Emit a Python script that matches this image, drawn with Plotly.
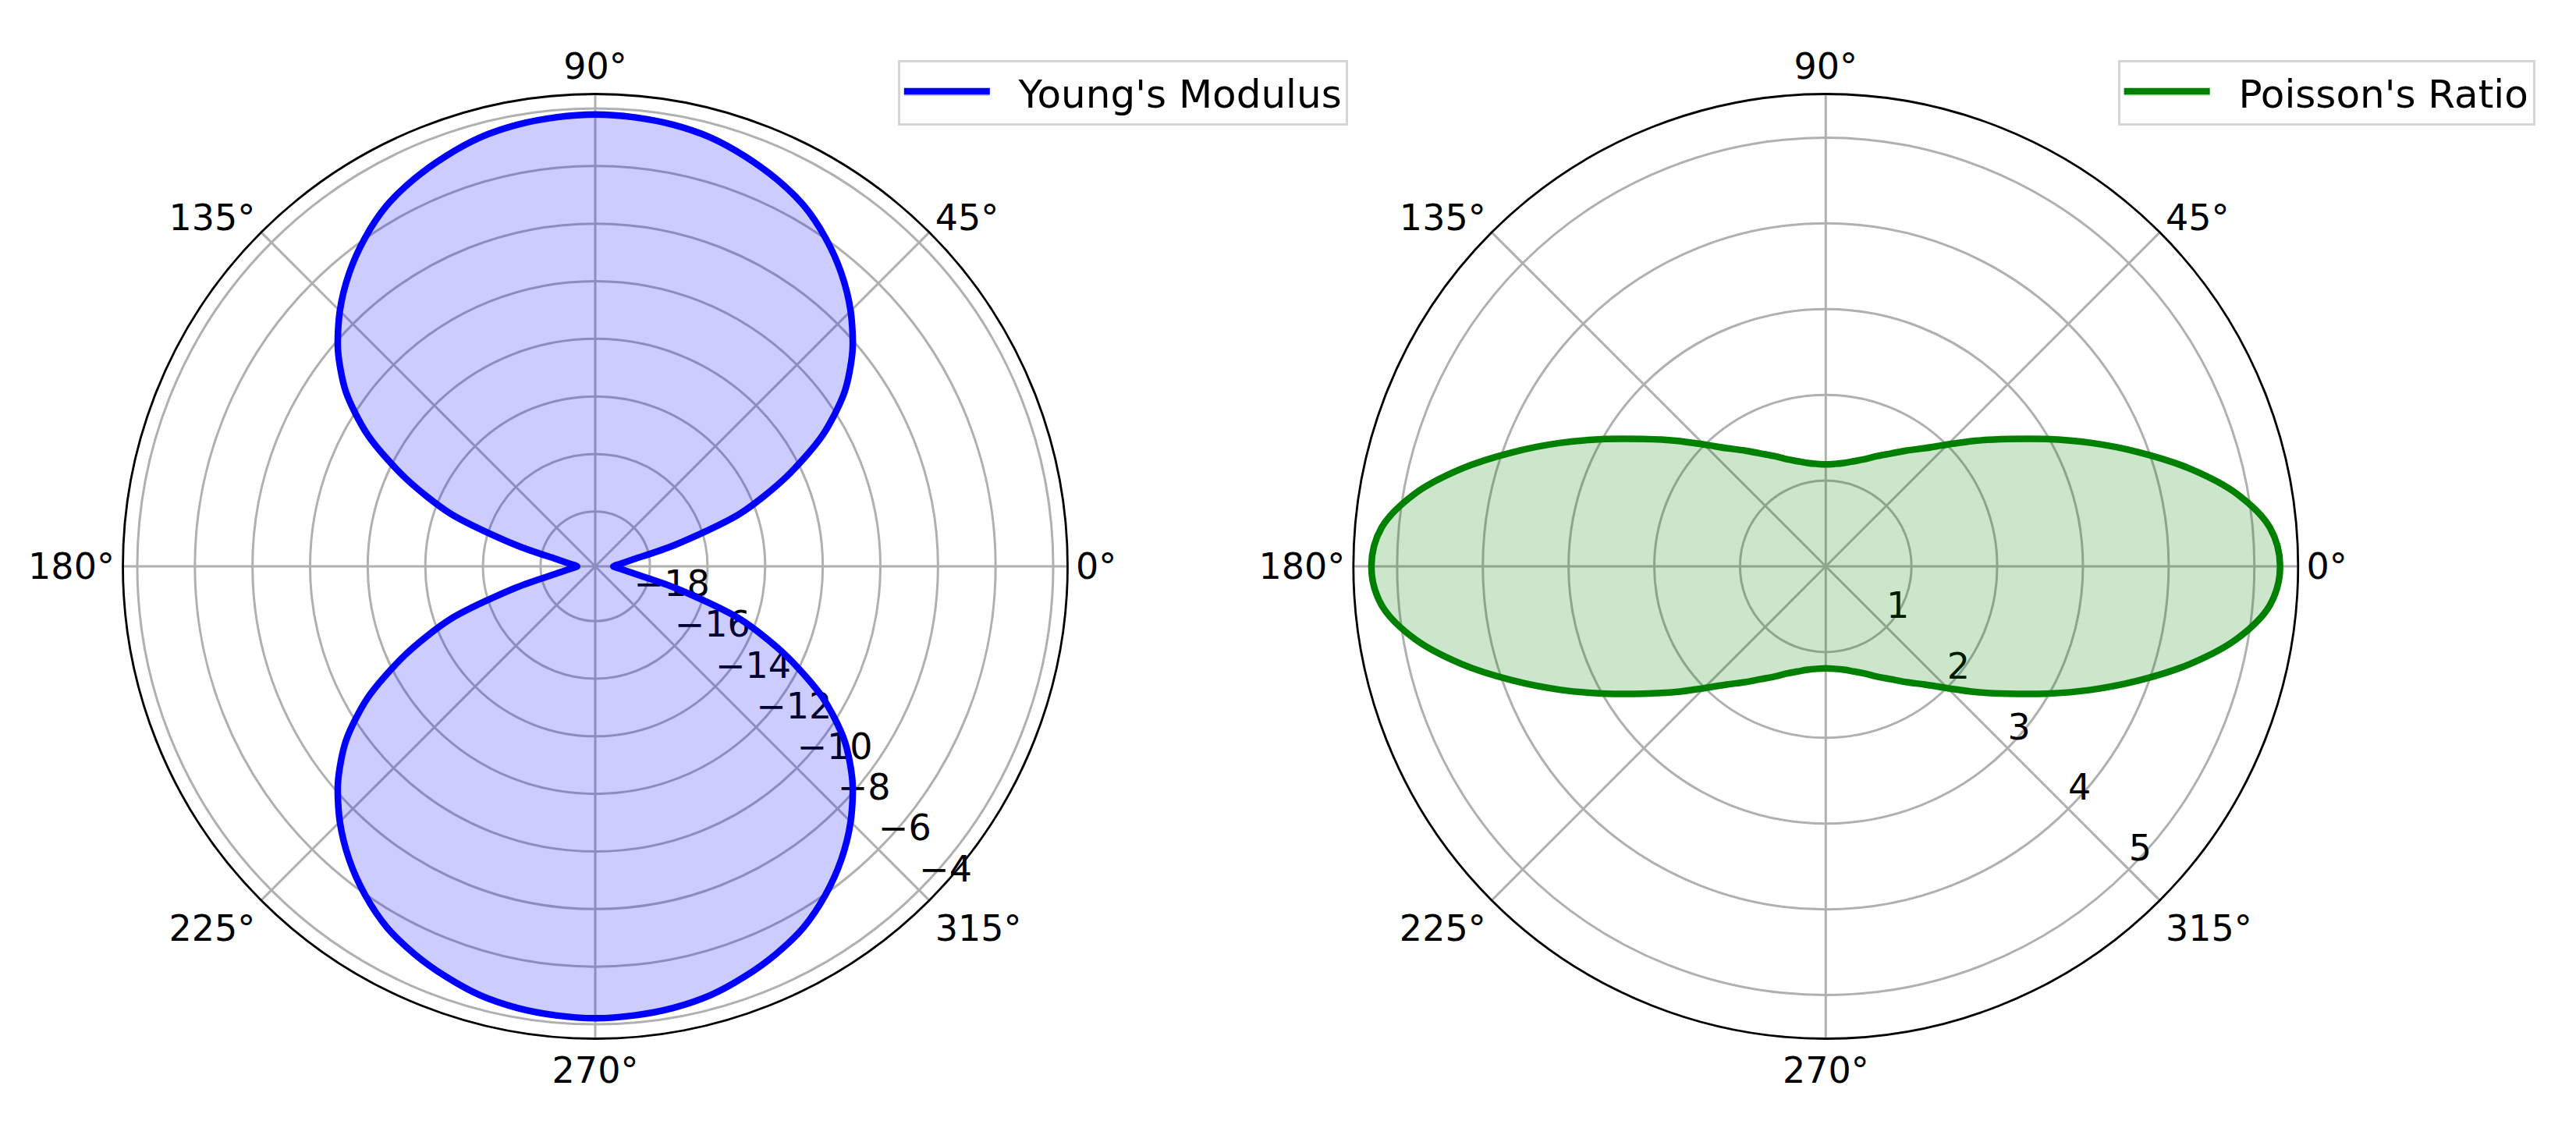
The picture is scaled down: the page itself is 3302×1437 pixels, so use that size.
import plotly.graph_objects as go

# angles (degrees) shared by both curves
theta_deg = list(range(0, 365, 5))

# Young's modulus (left panel)
youngs_modulus = [
    -19.27, -19.06, -18.61, -17.07, -14.56, -12.61, -10.78, -9.33, -8.24, -7.36,
    -6.61, -5.97, -5.43, -5.05, -4.74, -4.48, -4.33, -4.25, -4.21,
    -4.25, -4.33, -4.48, -4.74, -5.05, -5.43, -5.97, -6.61, -7.36, -8.24,
    -9.33, -10.78, -12.61, -14.56, -17.07, -18.61, -19.06, -19.27,
    -19.06, -18.61, -17.07, -14.56, -12.61, -10.78, -9.33, -8.24, -7.36,
    -6.61, -5.97, -5.43, -5.05, -4.74, -4.48, -4.33, -4.25, -4.21,
    -4.25, -4.33, -4.48, -4.74, -5.05, -5.43, -5.97, -6.61, -7.36, -8.24,
    -9.33, -10.78, -12.61, -14.56, -17.07, -18.61, -19.06, -19.27,
]

# Poisson's ratio (right panel)
poissons_ratio = [
    5.30, 5.20, 4.87, 4.40, 3.89, 3.41, 2.97, 2.59, 2.28, 2.01,
    1.80, 1.65, 1.52, 1.42, 1.33, 1.27, 1.225, 1.20, 1.19,
    1.20, 1.225, 1.27, 1.33, 1.42, 1.52, 1.65, 1.80, 2.01, 2.28,
    2.59, 2.97, 3.41, 3.89, 4.40, 4.87, 5.20, 5.30,
    5.20, 4.87, 4.40, 3.89, 3.41, 2.97, 2.59, 2.28, 2.01,
    1.80, 1.65, 1.52, 1.42, 1.33, 1.27, 1.225, 1.20, 1.19,
    1.20, 1.225, 1.27, 1.33, 1.42, 1.52, 1.65, 1.80, 2.01, 2.28,
    2.59, 2.97, 3.41, 3.89, 4.40, 4.87, 5.20, 5.30,
]

angle_ticks = [0, 45, 90, 135, 180, 225, 270, 315]
angle_labels = [f"{a}°" for a in angle_ticks]
e_ticks = [-18, -16, -14, -12, -10, -8, -6, -4]
nu_ticks = [1, 2, 3, 4, 5]
rlabel_angle = 315

W, H = 3302, 1437
FONT = "DejaVu Sans"
GRID = "#b0b0b0"
FS = 46


def fmt(v):
    return str(v).replace("-", "\u2212")


fig = go.Figure()

# radial tick labels, drawn first so the curves sit on top of them
for sub, ticks in (("polar", e_ticks), ("polar2", nu_ticks)):
    fig.add_trace(go.Scatterpolar(
        r=ticks, theta=[rlabel_angle] * len(ticks), mode="text",
        text=[fmt(t) for t in ticks], textposition="top right",
        textfont=dict(size=FS, color="black", family=FONT),
        subplot=sub, showlegend=False, hoverinfo="skip",
    ))

fig.add_trace(go.Scatterpolar(
    r=youngs_modulus, theta=theta_deg, mode="lines",
    name="\u00a0\u00a0Young's Modulus",
    line=dict(color="blue", width=8.5, shape="spline", smoothing=0.8),
    fill="toself", fillcolor="rgba(0,0,255,0.2)",
    subplot="polar", legend="legend", showlegend=True,
))
fig.add_trace(go.Scatterpolar(
    r=poissons_ratio, theta=theta_deg, mode="lines",
    name="\u00a0\u00a0Poisson's Ratio",
    line=dict(color="green", width=8.5, shape="spline"),
    fill="toself", fillcolor="rgba(0,128,0,0.2)",
    subplot="polar2", legend="legend2", showlegend=True,
))


def polar_layout(xdom, rng, ticks):
    return dict(
        domain=dict(x=xdom, y=[0.07898, 0.92171]),
        bgcolor="white",
        radialaxis=dict(
            range=rng, tickmode="array", tickvals=ticks, angle=-45,
            showticklabels=False, showline=False, ticks="",
            gridcolor=GRID, gridwidth=2.8,
        ),
        angularaxis=dict(
            tickmode="array", tickvals=angle_ticks, ticktext=angle_labels,
            direction="counterclockwise", rotation=0, ticks="",
            showline=True, linecolor="black", linewidth=2.8,
            gridcolor=GRID, gridwidth=2.8, tickfont=dict(size=FS, color="black"),
        ),
    )


legend_style = dict(
    font=dict(size=50, color="black", family=FONT), bgcolor="white",
    bordercolor="#d5d5d5", borderwidth=3, xanchor="left", yanchor="top",
    itemwidth=110,
)

fig.update_layout(
    width=W, height=H,
    margin=dict(l=0, r=0, t=0, b=0),
    paper_bgcolor="white",
    showlegend=True,
    font=dict(family=FONT, size=FS, color="black"),
    polar=polar_layout([0.04528, 0.41202], [-19.9, -3.5], e_ticks),
    polar2=polar_layout([0.52296, 0.88970], [0, 5.51], nu_ticks),
    legend=dict(x=0.3461, y=0.952, **legend_style),
    legend2=dict(x=0.8197, y=0.952, **legend_style),
)

fig.write_html("out.html")
